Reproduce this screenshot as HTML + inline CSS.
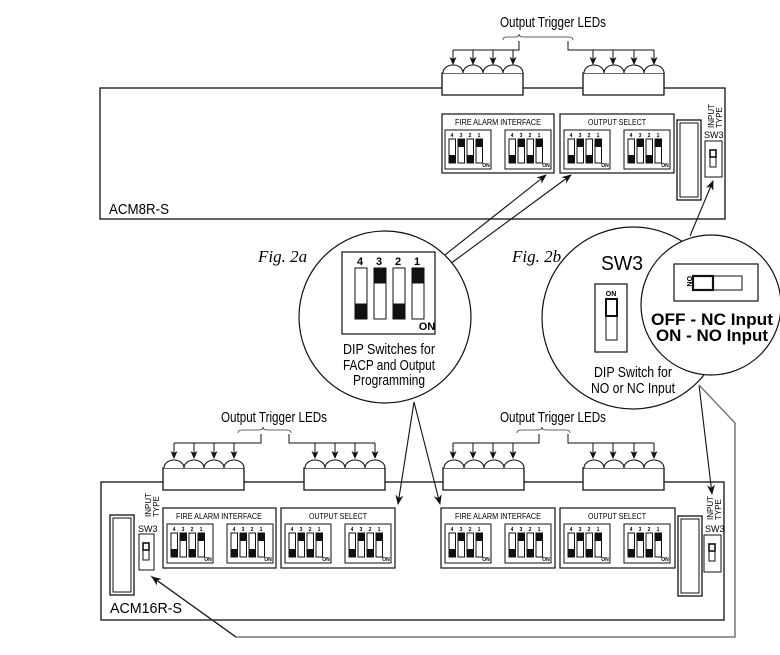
<!DOCTYPE html>
<html><head><meta charset="utf-8"><style>
html,body{margin:0;padding:0;background:#fff;}
svg{display:block;font-family:"Liberation Sans",sans-serif;}
</style></head><body>
<svg width="780" height="655" viewBox="0 0 780 655" xmlns="http://www.w3.org/2000/svg">
<defs>
<marker id="ah" markerWidth="10" markerHeight="10" refX="9" refY="5" orient="auto" markerUnits="userSpaceOnUse">
<path d="M0,1 L10,5 L0,9 L3,5 Z" fill="#111"/></marker>
<marker id="as" markerWidth="8" markerHeight="8" refX="7" refY="4" orient="auto" markerUnits="userSpaceOnUse">
<path d="M0,0.5 L8,4 L0,7.5 L2,4 Z" fill="#111"/></marker>
<g id="sw">
<rect x="0" y="0" width="46" height="39" fill="#fff" stroke="#111" stroke-width="1"/>
<rect x="4" y="9" width="6.5" height="24" fill="#fff" stroke="#111" stroke-width="1"/><rect x="4" y="25" width="6.5" height="8" fill="#111"/>
<rect x="13" y="9" width="6.5" height="24" fill="#fff" stroke="#111" stroke-width="1"/><rect x="13" y="9" width="6.5" height="8" fill="#111"/>
<rect x="22" y="9" width="6.5" height="24" fill="#fff" stroke="#111" stroke-width="1"/><rect x="22" y="25" width="6.5" height="8" fill="#111"/>
<rect x="31" y="9" width="6.5" height="24" fill="#fff" stroke="#111" stroke-width="1"/><rect x="31" y="9" width="6.5" height="8" fill="#111"/>
</g>
<g id="leds">
<path d="M0,22 V0 H81 V22 Z" fill="#fff" stroke="#111" stroke-width="1.3"/>
<path d="M1,0 A10,8 0 0 1 21,0 A10,8 0 0 1 41,0 A10,8 0 0 1 61,0 A10,8 0 0 1 81,0" fill="#fff" stroke="#111" stroke-width="1.1"/>
</g>
<g id="conn">
<rect x="0" y="0" width="24" height="80" fill="#fff" stroke="#111" stroke-width="1.3"/>
<rect x="3" y="3" width="18" height="74" fill="#fff" stroke="#111" stroke-width="1"/>
</g>
</defs>

<!-- ===== TOP BOARD ===== -->
<text x="553" y="27" font-size="15" text-anchor="middle" textLength="106" lengthAdjust="spacingAndGlyphs">Output Trigger LEDs</text>
<path d="M503,40 q0,-3 4,-3 h8 q4,0 4,-3 q0,3 4,3 h46 q4,0 4,3" fill="none" stroke="#333" stroke-width="0.8"/>
<g fill="none" stroke="#111" stroke-width="1">
<path d="M519,41 V50 H453 M473,50 V50 M568,41 V50 H654"/>
<line x1="453" y1="50" x2="453" y2="64" marker-end="url(#as)"/><line x1="473" y1="50" x2="473" y2="64" marker-end="url(#as)"/>
<line x1="493" y1="50" x2="493" y2="64" marker-end="url(#as)"/><line x1="513" y1="50" x2="513" y2="64" marker-end="url(#as)"/>
<line x1="593" y1="50" x2="593" y2="64" marker-end="url(#as)"/><line x1="613" y1="50" x2="613" y2="64" marker-end="url(#as)"/>
<line x1="634" y1="50" x2="634" y2="64" marker-end="url(#as)"/><line x1="654" y1="50" x2="654" y2="64" marker-end="url(#as)"/>
</g>
<rect x="100" y="88" width="625" height="131" fill="#fff" stroke="#111" stroke-width="1.3"/>
<use href="#leds" x="442" y="73"/><use href="#leds" x="583" y="73"/>
<text x="109" y="214" font-size="15" textLength="60" lengthAdjust="spacingAndGlyphs">ACM8R-S</text>
<!-- panels top -->
<g transform="translate(442,114)">
<rect x="0" y="0" width="112" height="59" fill="#fff" stroke="#111" stroke-width="1.2"/>
<text x="56" y="11" font-size="8" text-anchor="middle" textLength="86" lengthAdjust="spacingAndGlyphs">FIRE ALARM INTERFACE</text>
<use href="#sw" x="3" y="16"/><use href="#sw" x="63" y="16"/>
<g font-size="5" font-weight="bold" text-anchor="middle"><text x="10" y="23">4</text><text x="19" y="23">3</text><text x="28" y="23">2</text><text x="37" y="23">1</text><text x="44" y="53">ON</text>
<text x="70" y="23">4</text><text x="79" y="23">3</text><text x="88" y="23">2</text><text x="97" y="23">1</text><text x="104" y="53">ON</text></g>
</g>
<g transform="translate(560,114)">
<rect x="0" y="0" width="114" height="59" fill="#fff" stroke="#111" stroke-width="1.2"/>
<text x="57" y="11" font-size="8" text-anchor="middle" textLength="58" lengthAdjust="spacingAndGlyphs">OUTPUT SELECT</text>
<use href="#sw" x="4" y="16"/><use href="#sw" x="64" y="16"/>
<g font-size="5" font-weight="bold" text-anchor="middle"><text x="11" y="23">4</text><text x="20" y="23">3</text><text x="29" y="23">2</text><text x="38" y="23">1</text><text x="45" y="53">ON</text>
<text x="71" y="23">4</text><text x="80" y="23">3</text><text x="89" y="23">2</text><text x="98" y="23">1</text><text x="105" y="53">ON</text></g>
</g>
<use href="#conn" x="677" y="120"/>
<text transform="translate(714,128) rotate(-90)" font-size="8">INPUT</text>
<text transform="translate(722,128) rotate(-90)" font-size="8">TYPE</text>
<text x="704" y="138" font-size="9">SW3</text>
<rect x="705" y="141" width="17" height="36" fill="#fff" stroke="#111"/>
<rect x="710" y="150" width="6" height="17" fill="#fff" stroke="#111"/><rect x="710" y="150" width="6" height="7" fill="none" stroke="#111" stroke-width="1.6"/>

<!-- ===== BOTTOM BOARD ===== -->
<rect x="101" y="482" width="623" height="138" fill="#fff" stroke="#111" stroke-width="1.3"/>
<text x="274" y="422" font-size="15" text-anchor="middle" textLength="106" lengthAdjust="spacingAndGlyphs">Output Trigger LEDs</text>
<text x="553" y="422" font-size="15" text-anchor="middle" textLength="106" lengthAdjust="spacingAndGlyphs">Output Trigger LEDs</text>
<path d="M238,433 q0,-3 4,-3 h17 q4,0 4,-3 q0,3 4,3 h20 q4,0 4,3" fill="none" stroke="#333" stroke-width="0.8"/>
<path d="M517,433 q0,-3 4,-3 h17 q4,0 4,-3 q0,3 4,3 h20 q4,0 4,3" fill="none" stroke="#333" stroke-width="0.8"/>
<g fill="none" stroke="#111" stroke-width="1">
<path d="M261,434 V443 H174 M289,434 V443 H375 M539,434 V443 H453 M568,434 V443 H654"/>
<line x1="174" y1="443" x2="174" y2="458" marker-end="url(#as)"/><line x1="194" y1="443" x2="194" y2="458" marker-end="url(#as)"/>
<line x1="214" y1="443" x2="214" y2="458" marker-end="url(#as)"/><line x1="234" y1="443" x2="234" y2="458" marker-end="url(#as)"/>
<line x1="315" y1="443" x2="315" y2="458" marker-end="url(#as)"/><line x1="335" y1="443" x2="335" y2="458" marker-end="url(#as)"/>
<line x1="355" y1="443" x2="355" y2="458" marker-end="url(#as)"/><line x1="375" y1="443" x2="375" y2="458" marker-end="url(#as)"/>
<line x1="453" y1="443" x2="453" y2="458" marker-end="url(#as)"/><line x1="473" y1="443" x2="473" y2="458" marker-end="url(#as)"/>
<line x1="493" y1="443" x2="493" y2="458" marker-end="url(#as)"/><line x1="513" y1="443" x2="513" y2="458" marker-end="url(#as)"/>
<line x1="593" y1="443" x2="593" y2="458" marker-end="url(#as)"/><line x1="613" y1="443" x2="613" y2="458" marker-end="url(#as)"/>
<line x1="634" y1="443" x2="634" y2="458" marker-end="url(#as)"/><line x1="654" y1="443" x2="654" y2="458" marker-end="url(#as)"/>
</g>
<use href="#leds" x="163" y="468"/><use href="#leds" x="304" y="468"/>
<use href="#leds" x="443" y="468"/><use href="#leds" x="583" y="468"/>
<text x="110" y="613" font-size="15" textLength="72" lengthAdjust="spacingAndGlyphs">ACM16R-S</text>

<g transform="translate(163,508)">
<rect x="0" y="0" width="113" height="60" fill="#fff" stroke="#111" stroke-width="1.2"/>
<text x="56" y="11" font-size="8" text-anchor="middle" textLength="86" lengthAdjust="spacingAndGlyphs">FIRE ALARM INTERFACE</text>
<use href="#sw" x="4" y="16"/><use href="#sw" x="64" y="16"/>
<g font-size="5" font-weight="bold" text-anchor="middle"><text x="11" y="23">4</text><text x="20" y="23">3</text><text x="29" y="23">2</text><text x="38" y="23">1</text><text x="45" y="53">ON</text>
<text x="71" y="23">4</text><text x="80" y="23">3</text><text x="89" y="23">2</text><text x="98" y="23">1</text><text x="105" y="53">ON</text></g>
</g>
<g transform="translate(281,508)">
<rect x="0" y="0" width="114" height="60" fill="#fff" stroke="#111" stroke-width="1.2"/>
<text x="57" y="11" font-size="8" text-anchor="middle" textLength="58" lengthAdjust="spacingAndGlyphs">OUTPUT SELECT</text>
<use href="#sw" x="4" y="16"/><use href="#sw" x="64" y="16"/>
<g font-size="5" font-weight="bold" text-anchor="middle"><text x="11" y="23">4</text><text x="20" y="23">3</text><text x="29" y="23">2</text><text x="38" y="23">1</text><text x="45" y="53">ON</text>
<text x="71" y="23">4</text><text x="80" y="23">3</text><text x="89" y="23">2</text><text x="98" y="23">1</text><text x="105" y="53">ON</text></g>
</g>
<g transform="translate(441,508)">
<rect x="0" y="0" width="114" height="60" fill="#fff" stroke="#111" stroke-width="1.2"/>
<text x="57" y="11" font-size="8" text-anchor="middle" textLength="86" lengthAdjust="spacingAndGlyphs">FIRE ALARM INTERFACE</text>
<use href="#sw" x="4" y="16"/><use href="#sw" x="64" y="16"/>
<g font-size="5" font-weight="bold" text-anchor="middle"><text x="11" y="23">4</text><text x="20" y="23">3</text><text x="29" y="23">2</text><text x="38" y="23">1</text><text x="45" y="53">ON</text>
<text x="71" y="23">4</text><text x="80" y="23">3</text><text x="89" y="23">2</text><text x="98" y="23">1</text><text x="105" y="53">ON</text></g>
</g>
<g transform="translate(560,508)">
<rect x="0" y="0" width="115" height="60" fill="#fff" stroke="#111" stroke-width="1.2"/>
<text x="57" y="11" font-size="8" text-anchor="middle" textLength="58" lengthAdjust="spacingAndGlyphs">OUTPUT SELECT</text>
<use href="#sw" x="4" y="16"/><use href="#sw" x="64" y="16"/>
<g font-size="5" font-weight="bold" text-anchor="middle"><text x="11" y="23">4</text><text x="20" y="23">3</text><text x="29" y="23">2</text><text x="38" y="23">1</text><text x="45" y="53">ON</text>
<text x="71" y="23">4</text><text x="80" y="23">3</text><text x="89" y="23">2</text><text x="98" y="23">1</text><text x="105" y="53">ON</text></g>
</g>
<use href="#conn" x="110" y="515"/>
<text transform="translate(151,517) rotate(-90)" font-size="8">INPUT</text>
<text transform="translate(159,517) rotate(-90)" font-size="8">TYPE</text>
<text x="138" y="532" font-size="9">SW3</text>
<rect x="139" y="534" width="15" height="36" fill="#fff" stroke="#111"/>
<rect x="143" y="543" width="6" height="17" fill="#fff" stroke="#111"/><rect x="143" y="543" width="6" height="7" fill="none" stroke="#111" stroke-width="1.6"/>
<use href="#conn" x="678" y="516"/>
<text transform="translate(713,520) rotate(-90)" font-size="8">INPUT</text>
<text transform="translate(721,520) rotate(-90)" font-size="8">TYPE</text>
<text x="705" y="532" font-size="9">SW3</text>
<rect x="704" y="535" width="17" height="37" fill="#fff" stroke="#111"/>
<rect x="709" y="544" width="6" height="17" fill="#fff" stroke="#111"/><rect x="709" y="544" width="6" height="7" fill="none" stroke="#111" stroke-width="1.6"/>

<!-- ===== CONNECTORS ===== -->
<g fill="none" stroke="#111" stroke-width="1.1">
<line x1="436" y1="262" x2="546" y2="175" marker-end="url(#ah)"/>
<line x1="450" y1="264" x2="571" y2="175" marker-end="url(#ah)"/>
<line x1="690" y1="236" x2="713" y2="181" marker-end="url(#ah)"/>
<line x1="414" y1="402" x2="398" y2="504" marker-end="url(#ah)"/>
<line x1="414" y1="402" x2="440" y2="504" marker-end="url(#ah)"/>
<line x1="699" y1="385" x2="712" y2="494" marker-end="url(#ah)"/>
</g>
<path d="M699,385 L735,423 V637 H236 L151,576" fill="none" stroke="#777" stroke-width="1.5"/>
<line x1="236" y1="637" x2="152" y2="577" stroke="#111" stroke-width="1" marker-end="url(#ah)"/>

<!-- ===== FIG 2a ===== -->
<text x="258" y="262" font-family="Liberation Serif, serif" font-style="italic" font-size="17">Fig. 2a</text>
<circle cx="385" cy="317" r="86" fill="#fff" stroke="#111" stroke-width="1.2"/>
<rect x="342" y="252" width="93" height="82" fill="#fff" stroke="#111" stroke-width="1.2"/>
<g font-size="11" font-weight="bold" text-anchor="middle"><text x="360" y="265">4</text><text x="379" y="265">3</text><text x="398" y="265">2</text><text x="417" y="265">1</text><text x="427" y="330">ON</text></g>
<g stroke="#111" stroke-width="1">
<rect x="355" y="268" width="12" height="51" fill="#fff"/><rect x="355" y="304" width="12" height="15" fill="#111"/>
<rect x="374" y="268" width="12" height="51" fill="#fff"/><rect x="374" y="268" width="12" height="15" fill="#111"/>
<rect x="393" y="268" width="12" height="51" fill="#fff"/><rect x="393" y="304" width="12" height="15" fill="#111"/>
<rect x="412" y="268" width="12" height="51" fill="#fff"/><rect x="412" y="268" width="12" height="15" fill="#111"/>
</g>
<g font-size="15" text-anchor="middle"><text x="389" y="354" textLength="92" lengthAdjust="spacingAndGlyphs">DIP Switches for</text>
<text x="389" y="370" textLength="92" lengthAdjust="spacingAndGlyphs">FACP and Output</text>
<text x="389" y="385" textLength="72" lengthAdjust="spacingAndGlyphs">Programming</text></g>

<!-- ===== FIG 2b ===== -->
<text x="512" y="262" font-family="Liberation Serif, serif" font-style="italic" font-size="17">Fig. 2b</text>
<circle cx="633" cy="318" r="91" fill="#fff" stroke="#111" stroke-width="1.2"/>
<text x="622" y="270" font-size="20" text-anchor="middle" textLength="42" lengthAdjust="spacingAndGlyphs">SW3</text>
<rect x="595" y="284" width="32" height="68" fill="#fff" stroke="#111" stroke-width="1.2"/>
<text x="611" y="296" font-size="7" font-weight="bold" text-anchor="middle">ON</text>
<rect x="606" y="299" width="11" height="41" fill="#fff" stroke="#111"/>
<rect x="606" y="299" width="11" height="17" fill="none" stroke="#111" stroke-width="2"/>
<g font-size="15" text-anchor="middle"><text x="633" y="377" textLength="78" lengthAdjust="spacingAndGlyphs">DIP Switch for</text>
<text x="633" y="393" textLength="84" lengthAdjust="spacingAndGlyphs">NO or NC Input</text></g>
<circle cx="711" cy="305" r="70" fill="#fff" stroke="#111" stroke-width="1.2"/>
<rect x="674" y="264" width="84" height="37" fill="#fff" stroke="#111" stroke-width="1.2"/>
<text transform="translate(687,276) rotate(90)" font-size="7" font-weight="bold">ON</text>
<rect x="693" y="276" width="49" height="14" fill="#fff" stroke="#111"/>
<rect x="693" y="276" width="20" height="14" fill="none" stroke="#111" stroke-width="2.2"/>
<g font-size="17" font-weight="bold" text-anchor="middle"><text x="712" y="325" textLength="122" lengthAdjust="spacingAndGlyphs">OFF - NC Input</text>
<text x="712" y="341" textLength="112" lengthAdjust="spacingAndGlyphs">ON - NO Input</text></g>
</svg>
</body></html>
